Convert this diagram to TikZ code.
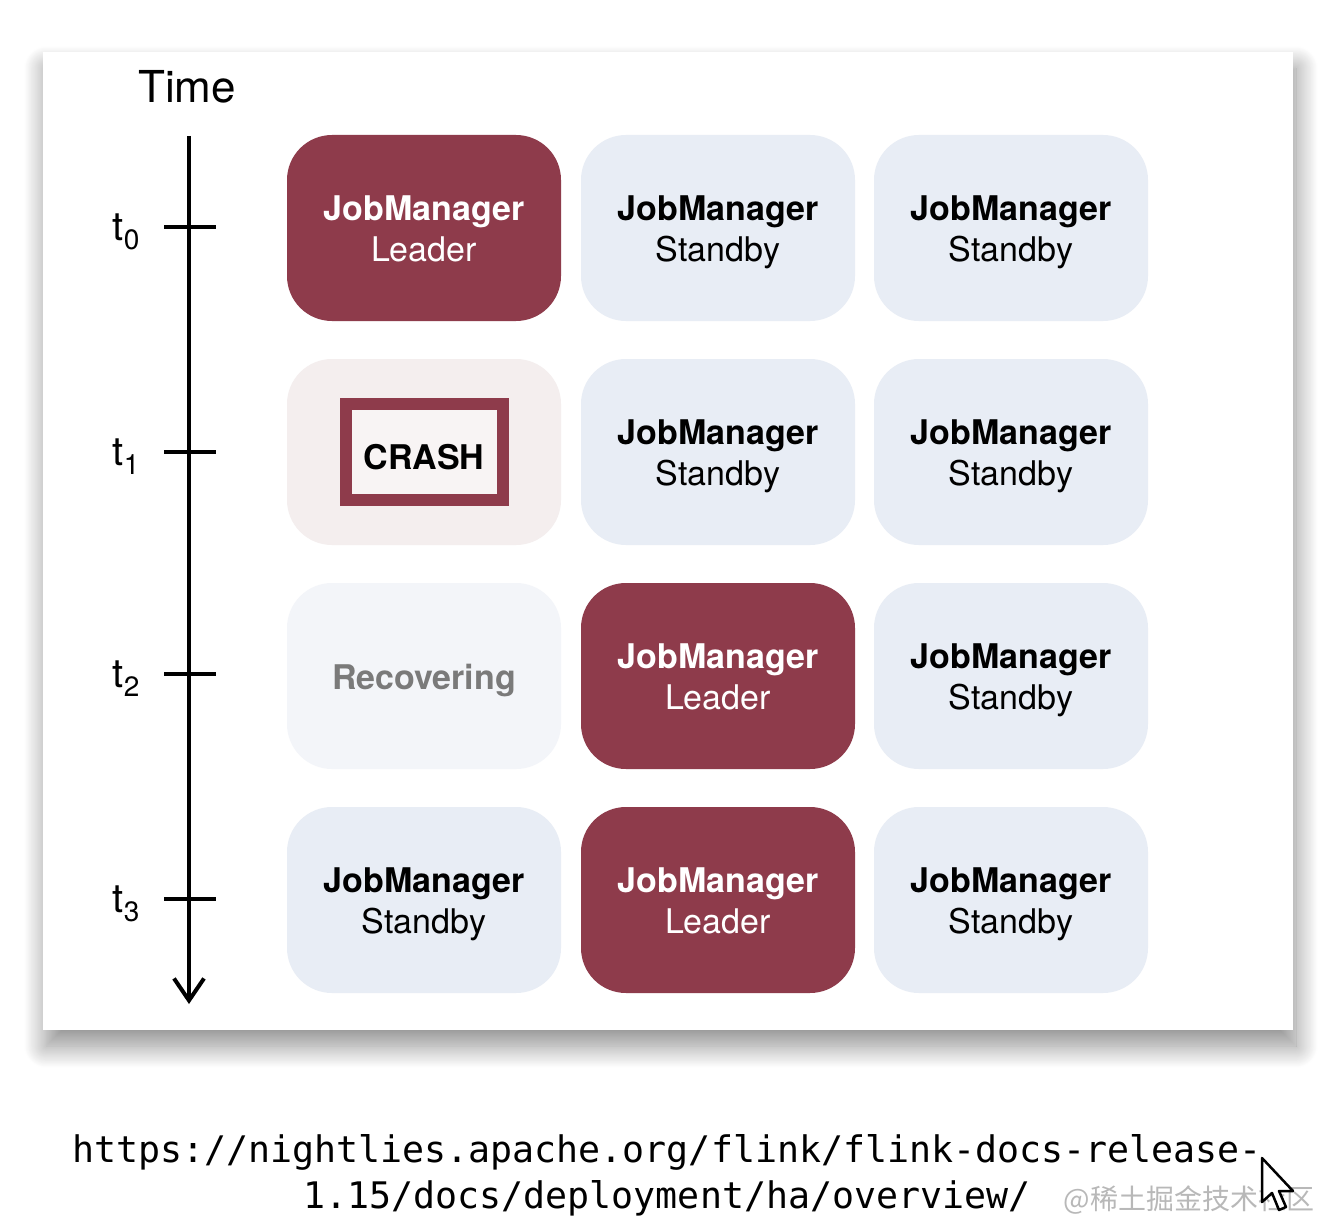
\documentclass[tikz,border=0pt]{standalone}
\usepackage{fontspec}
\setmainfont{TeX Gyre Heros}
\setmonofont{DejaVu Sans Mono}
\newfontfamily\cjkfont{Noto Sans CJK SC}
\usetikzlibrary{arrows.meta,shadows.blur}
\definecolor{leaderred}{HTML}{8E3B4B}
\definecolor{standbyblue}{HTML}{E8EDF5}
\definecolor{crashpink}{HTML}{F4EEEE}
\definecolor{crashinner}{HTML}{F8F4F4}
\definecolor{recoverfill}{HTML}{F3F5F9}
\definecolor{recovertext}{HTML}{7A7A7A}
\definecolor{marktext}{HTML}{B8B8B8}

\tikzset{
  cell/.style={rounded corners=45pt, minimum width=274pt, minimum height=186pt,
    inner sep=0pt, align=center, font=\fontsize{34}{41}\selectfont},
  leader/.style={cell, fill=leaderred, text=white},
  standby/.style={cell, fill=standbyblue, text=black},
  crashcell/.style={cell, fill=crashpink},
  recover/.style={cell, fill=recoverfill, text=recovertext},
  tlabel/.style={font=\fontsize{40}{40}\selectfont, anchor=east},
}
\newcommand{\lowered}[1]{\raisebox{-5pt}[\height][\depth]{#1}}
\newcommand{\jmtext}[1]{\lowered{\begin{tabular}{@{}c@{}}\textbf{JobManager}\\#1\end{tabular}}}
\newcommand{\tsub}[1]{t\raisebox{-0.22em}{\fontsize{28}{28}\selectfont #1}}

\begin{document}
\begin{tikzpicture}[x=1pt, y=-1pt]
    \useasboundingbox (0,0) rectangle (1339,1228);
    % panel with its shadow
    \node[fill=white, minimum width=1250pt, minimum height=978pt, inner sep=0pt,
        blur shadow={shadow xshift=3pt, shadow yshift=-16pt, shadow blur radius=22pt,
          shadow blur steps=25, shadow opacity=45}]
        (panel) at (668,541) {};
    % time axis
    \node[font=\fontsize{44}{44}\selectfont] (time) at (187,87) {Time};
    \coordinate (axtop) at (189,136);
    \coordinate (axbot) at (189,1004);
    \draw[line width=4pt, -{Straight Barb[length=22pt, width=30pt, line width=4pt]}] (axtop) -- (axbot);
    \coordinate (tick0) at (189,227);
    \coordinate (tick1) at (189,452);
    \coordinate (tick2) at (189,674);
    \coordinate (tick3) at (189,899);
    \draw[line width=4pt] ([xshift=-25pt]tick0) -- ([xshift=27pt]tick0);
    \draw[line width=4pt] ([xshift=-25pt]tick1) -- ([xshift=27pt]tick1);
    \draw[line width=4pt] ([xshift=-25pt]tick2) -- ([xshift=27pt]tick2);
    \draw[line width=4pt] ([xshift=-25pt]tick3) -- ([xshift=27pt]tick3);
    \node[tlabel] (t0) at (143,232) {\tsub{0}};
    \node[tlabel] (t1) at (143,457) {\tsub{1}};
    \node[tlabel] (t2) at (143,679) {\tsub{2}};
    \node[tlabel] (t3) at (143,904) {\tsub{3}};
    % row t0
    \node[leader]  (jmA0) at (424,228) {\jmtext{Leader}};
    \node[standby] (jmB0) at (718,228) {\jmtext{Standby}};
    \node[standby] (jmC0) at (1011,228) {\jmtext{Standby}};
    % row t1
    \node[crashcell] (jmA1) at (424,452) {};
    \node[draw=leaderred, line width=12pt, fill=crashinner, minimum width=157pt, minimum height=96pt,
        font=\fontsize{34}{34}\selectfont\bfseries] (crash) at (jmA1.center) {\lowered{CRASH}};
    \node[standby] (jmB1) at (718,452) {\jmtext{Standby}};
    \node[standby] (jmC1) at (1011,452) {\jmtext{Standby}};
    % row t2
    \node[recover, font=\fontsize{34}{41}\selectfont\bfseries] (jmA2) at (424,676) {\lowered{Recovering}};
    \node[leader]  (jmB2) at (718,676) {\jmtext{Leader}};
    \node[standby] (jmC2) at (1011,676) {\jmtext{Standby}};
    % row t3
    \node[standby] (jmA3) at (424,900) {\jmtext{Standby}};
    \node[leader]  (jmB3) at (718,900) {\jmtext{Leader}};
    \node[standby] (jmC3) at (1011,900) {\jmtext{Standby}};
    % source link
    \node[font=\fontsize{36.6}{46}\ttfamily, align=center] (url) at (667,1175)
        {https://nightlies.apache.org/flink/flink-docs-release-\\1.15/docs/deployment/ha/overview/};
    \node[font=\fontsize{28}{28}\cjkfont, text=marktext, anchor=west] (mark) at (1060,1200) {@稀土掘金技术社区};
    % mouse pointer
    \draw[line width=2.5pt, fill=white, line join=round]
        (1262,1158) -- (1262,1202) -- (1272,1193) -- (1279,1210) -- (1286,1207) -- (1279,1191) -- (1293,1191) -- cycle;
\end{tikzpicture}
\end{document}
